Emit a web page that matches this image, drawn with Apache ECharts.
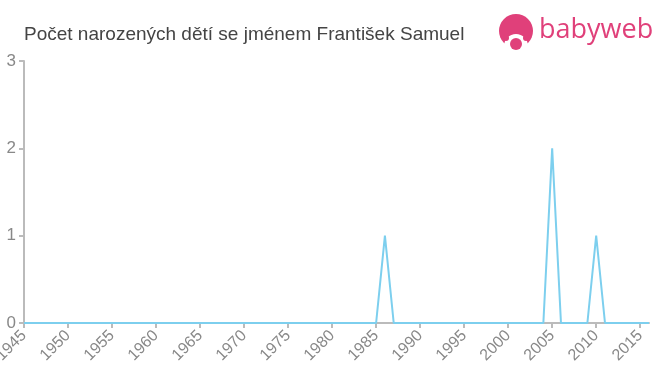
<!DOCTYPE html>
<html><head><meta charset="utf-8">
<script src="https://cdn.jsdelivr.net/npm/echarts@6/dist/echarts.min.js"></script>
<style>html,body{margin:0;padding:0;background:#fff}#c{width:660px;height:375px}</style>
</head><body><div id="c"></div>
<script>
var titleText = 'Počet narozených dětí se jménem František Samuel';
var years = ['1945','1946','1947','1948','1949','1950','1951','1952','1953','1954','1955','1956','1957','1958','1959','1960','1961','1962','1963','1964','1965','1966','1967','1968','1969','1970','1971','1972','1973','1974','1975','1976','1977','1978','1979','1980','1981','1982','1983','1984','1985','1986','1987','1988','1989','1990','1991','1992','1993','1994','1995','1996','1997','1998','1999','2000','2001','2002','2003','2004','2005','2006','2007','2008','2009','2010','2011','2012','2013','2014','2015','2016'];
var counts = [0,0,0,0,0,0,0,0,0,0,0,0,0,0,0,0,0,0,0,0,0,0,0,0,0,0,0,0,0,0,0,0,0,0,0,0,0,0,0,0,0,1,0,0,0,0,0,0,0,0,0,0,0,0,0,0,0,0,0,0,2,0,0,0,0,1,0,0,0,0,0,0];
var yTicks = [0,1,2,3];

var chart = echarts.init(document.getElementById('c'), null, {renderer:'canvas'});
chart.setOption({
  animation:false,
  title:{text:titleText,left:19,top:20,textStyle:{fontFamily:'Arial, Liberation Sans, sans-serif',fontSize:19,fontWeight:'normal',color:'#444'}},
  grid:{left:24,right:11,top:61,bottom:52,containLabel:false,outerBoundsMode:'none'},
  xAxis:{type:'category',data:years,boundaryGap:false,
    axisLine:{lineStyle:{color:'#bbb',width:2}},
    axisTick:{interval:4,length:5,lineStyle:{color:'#bbb',width:2}},
    axisLabel:{interval:4,rotate:45,color:'#888',fontSize:16,fontFamily:'Arial, Liberation Sans, sans-serif',margin:10,hideOverlap:false},
    splitLine:{show:false}},
  yAxis:{type:'value',min:yTicks[0],max:yTicks[yTicks.length-1],interval:1,
    axisLine:{show:true,lineStyle:{color:'#bbb',width:2}},
    axisTick:{show:true,length:5,lineStyle:{color:'#bbb',width:2}},
    axisLabel:{color:'#888',fontSize:17,fontFamily:'Arial, Liberation Sans, sans-serif',margin:8},
    splitLine:{show:false}},
  series:[{type:'line',data:counts,showSymbol:false,symbol:'none',lineStyle:{color:'#7dcfee',width:2}}],
  graphic:[
    {type:'circle',shape:{cx:516,cy:31,r:17},style:{fill:'#e0407a'}},
    {type:'circle',shape:{cx:516,cy:46,r:12},style:{fill:'#fff'}},
    {type:'circle',shape:{cx:506,cy:38,r:3},style:{fill:'#e0407a'}},
    {type:'circle',shape:{cx:526,cy:38,r:3},style:{fill:'#e0407a'}},
    {type:'circle',shape:{cx:516,cy:44,r:6},style:{fill:'#e0407a'}},
    {type:'text',left:539,top:17,style:{text:'babyweb',fill:'#e0407a',font:'27px "Open Sans", Arial, sans-serif'}}
  ]
});
</script></body></html>
